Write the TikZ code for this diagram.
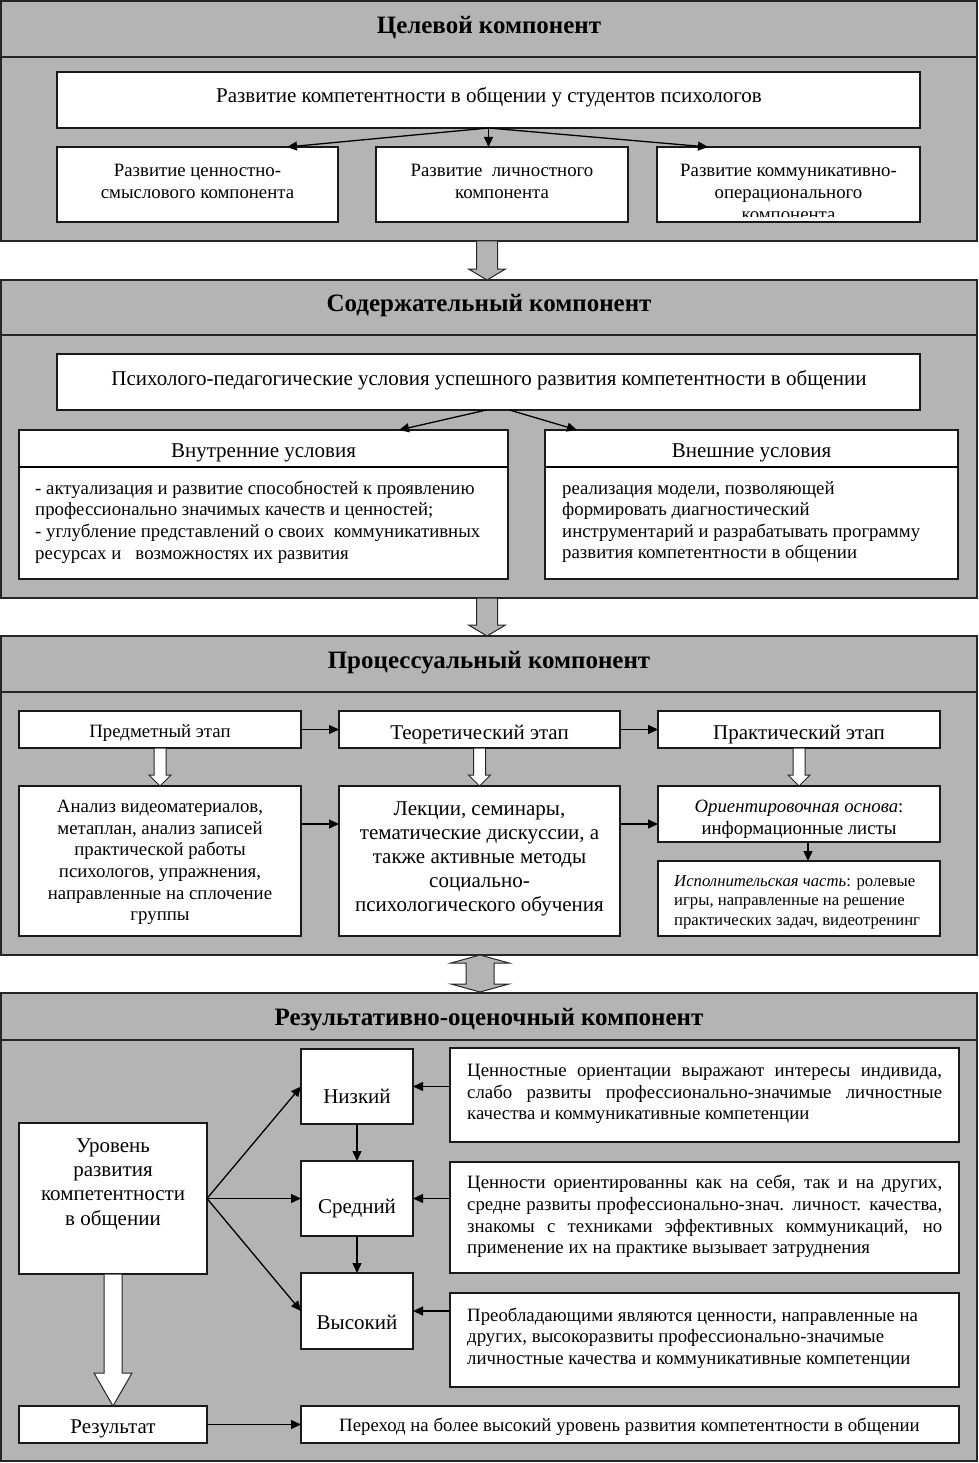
\documentclass[tikz,border=0pt]{standalone}
\usepackage{fontspec}
\setmainfont{Liberation Serif}
\usetikzlibrary{arrows.meta,calc}
\definecolor{secgray}{RGB}{180,180,180}
\tikzset{
 x=1pt,y=-1pt,
 sect/.style={draw=black!85,line width=1.6pt,fill=secgray,inner sep=0pt,outer sep=0pt},
 wbox/.style={draw=black!90,line width=1.3pt,fill=white,inner sep=0pt,outer sep=0pt},
 txt/.style={inner sep=0pt,align=center,yshift=-2pt},
 ltxt/.style={inner sep=0pt,align=left,anchor=west,yshift=-2pt},
 hdr/.style={inner sep=0pt,yshift=-2pt,font=\fontsize{25}{29}\selectfont\bfseries},
 hline/.style={draw=black!85,line width=1.6pt},
 arr/.style={line width=1.3pt,-{Triangle[length=10pt,width=9pt]}},
 blk/.style={draw=black!85,line width=1pt},
}
\newcommand\mybox[6][wbox]{\node[#1,anchor=north west,minimum width={#4pt-#2pt},minimum height={#5pt-#3pt}] (#6) at (#2,#3) {};}
\newcommand\blockarrow[7]{\filldraw[blk,fill=#7] ({#1-#4},#2) -- ({#1+#4},#2) -- ({#1+#4},{#3-#6}) -- ({#1+#5},{#3-#6}) -- (#1,#3) -- ({#1-#5},{#3-#6}) -- ({#1-#4},{#3-#6}) -- cycle;}
\newcommand\fa{\fontsize{21}{22}\selectfont}
\newcommand\fb{\fontsize{18.8}{22}\selectfont}
\newcommand\fc{\fontsize{18.8}{21.6}\selectfont}
\newcommand\fd{\fontsize{21}{24}\selectfont}
\newcommand\fe{\fontsize{16.7}{19.5}\selectfont}
\newcommand\ff{\fontsize{21}{24.2}\selectfont}
\newcommand\fg{\fontsize{18.8}{21.6}\selectfont}
\begin{document}
\begin{tikzpicture}
\useasboundingbox (0,0) rectangle (978,1463);
% ---------- Section 1
\mybox[sect]{1}{1}{977}{241}{s1}
\draw[hline] (1,57) -- (977,57);
\node[hdr] (h1) at (489,26) {Целевой компонент};
\mybox{57}{72}{920}{128}{m1}
\node[txt,font=\fa] (m1t) at (489,95) {Развитие компетентности в общении у студентов психологов};
\mybox{57}{147}{338}{222}{b1}
\mybox{376}{147}{628}{222}{b2}
\mybox{657}{147}{920}{222}{b3}
\node[txt,font=\fb] (b1t) at (197.5,179) {Развитие ценностно-\\смыслового компонента};
\node[txt,font=\fb] (b2t) at (502,179) {Развитие\ \ личностного\\компонента};
\begin{scope}
\clip (658,148) rectangle (919,217);
\node[txt,font=\fb] (b3t) at (788.5,190) {Развитие коммуникативно-\\операционального\\компонента};
\end{scope}
\draw[arr] (m1.south) -- ($(b1.north east)+(-51,0)$);
\draw[arr] (m1.south) -- (m1.south |- b2.north);
\draw[arr] (m1.south) -- ($(b3.north west)+(51,0)$);
% ---------- Section 2
\mybox[sect]{1}{280}{977}{598}{s2}
\draw[hline] (1,335) -- (977,335);
\node[hdr] (h2) at (489,304) {Содержательный компонент};
\blockarrow{487}{241}{280}{10.5}{18.5}{11}{secgray}
\mybox{57}{354}{920}{410}{m2}
\node[txt,font=\fa] (m2t) at (489,378) {Психолого-педагогические условия успешного развития компетентности в общении};
\mybox{19}{430}{508}{579}{inb}
\mybox{545}{430}{958}{579}{exb}
\draw[line width=1.3pt] (19,467) -- (508,467);
\draw[line width=1.3pt] (545,467) -- (958,467);
\node[txt,font=\fa] (inh) at (263.5,451) {Внутренние условия};
\node[txt,font=\fa] (exh) at (751.5,451) {Внешние условия};
\node[ltxt,font=\fc] (inb-t) at (35,520) {- актуализация и развитие способностей к проявлению\\профессионально значимых качеств и ценностей;\\- углубление представлений о своих\ \ коммуникативных\\ресурсах и \ \ возможностях их развития};
\node[ltxt,font=\fc] (exb-t) at (562,520) {реализация модели, позволяющей\\формировать диагностический\\инструментарий и разрабатывать программу\\развития компетентности в общении};
\draw[arr] ($(m2.south)+(-2,0)$) -- ($(inb.north east)+(-109,0)$);
\draw[arr] ($(m2.south)+(21,0)$) -- ($(exb.north west)+(32,0)$);
% ---------- Section 3
\mybox[sect]{1}{636}{977}{955}{s3}
\draw[hline] (1,692) -- (977,692);
\node[hdr] (h3) at (489,661) {Процессуальный компонент};
\blockarrow{487}{598}{636}{10.5}{18.5}{11}{secgray}
\mybox{19}{711}{301}{748}{p1}
\mybox{339}{711}{620}{748}{p2}
\mybox{658}{711}{940}{748}{p3}
\node[txt,font=\fb] (p1t) at (160,731) {Предметный этап};
\node[txt,font=\fa] (p2t) at (479.5,733) {Теоретический этап};
\node[txt,font=\fa] (p3t) at (799,733) {Практический этап};
\mybox{19}{786}{301}{936}{q1}
\mybox{339}{786}{620}{936}{q2}
\mybox{658}{786}{940}{842}{q3a}
\mybox{658}{861}{940}{936}{q3b}
\node[txt,font=\fc] (q1t) at (160,860.5) {Анализ видеоматериалов,\\метаплан, анализ записей\\практической работы\\психологов, упражнения,\\направленные на сплочение\\группы};
\node[txt,font=\fd] (q2t) at (479.5,857) {Лекции, семинары,\\тематические дискуссии, а\\также активные методы\\социально-\\психологического обучения};
\node[txt,font=\fc] (q3at) at (799,817) {\textit{Ориентировочная основа}:\\информационные листы};
\node[ltxt,font=\fe] (q3bt) at (674,900) {\textit{Исполнительская часть}: ролевые\\игры, направленные на решение\\практических задач, видеотренинг};
\draw[arr] (p1.east) -- (p2.west);
\draw[arr] (p2.east) -- (p3.west);
\draw[arr] ($(q1.north east)+(0,38)$) -- ($(q2.north west)+(0,38)$);
\draw[arr] ($(q2.north east)+(0,38)$) -- ($(q3a.north west)+(0,38)$);
\draw[arr] ($(q3a.south)+(9,0)$) -- ($(q3b.north)+(9,0)$);
\blockarrow{160}{748}{786}{6}{11}{11}{white}
\blockarrow{479.5}{748}{786}{6}{11}{11}{white}
\blockarrow{799}{748}{786}{6}{11}{11}{white}
% ---------- Section 4
\mybox[sect]{1}{993}{977}{1461}{s4}
\draw[hline] (1,1040) -- (977,1040);
\node[hdr] (h4) at (489,1018) {Результативно-оценочный компонент};
\filldraw[blk,fill=secgray] (480,955) -- (509,963) -- (494,963) -- (494,984) -- (509,984) -- (480,992) -- (451,984) -- (466,984) -- (466,963) -- (451,963) -- cycle;
\mybox{19}{1123}{207}{1274}{lvl}
\node[txt,font=\ff] (lvlt) at (113,1182) {Уровень\\развития\\компетентности\\в общении};
\mybox{301}{1049}{413}{1124}{low}
\mybox{301}{1161}{413}{1236}{mid}
\mybox{301}{1273}{413}{1349}{high}
\node[txt,font=\ff] (lowt) at (357,1094) {Низкий};
\node[txt,font=\ff] (midt) at (357,1207) {Средний};
\node[txt,font=\ff] (hight) at (357,1320) {Высокий};
\mybox{450}{1048}{959}{1142}{d1}
\mybox{450}{1162}{959}{1273}{d2}
\mybox{450}{1293}{959}{1387}{d3}
\node[ltxt,font=\fg] (d1t) at (467,1092) {\makebox[475pt][s]{Ценностные ориентации выражают интересы индивида,}\\\makebox[475pt][s]{слабо развиты профессионально-значимые личностные}\\качества и коммуникативные компетенции};
\node[ltxt,font=\fg] (d2t) at (467,1214.5) {\makebox[475pt][s]{Ценности ориентированны как на себя, так и на других,}\\\makebox[475pt][s]{средне развиты профессионально-знач. личност. качества,}\\\makebox[475pt][s]{знакомы с техниками эффективных коммуникаций, но}\\применение их на практике вызывает затруднения};
\node[ltxt,font=\fg] (d3t) at (467,1336) {Преобладающими являются ценности, направленные на\\других, высокоразвиты профессионально-значимые\\личностные качества и коммуникативные компетенции};
\mybox{19}{1406}{207}{1443}{res}
\mybox{301}{1406}{959}{1443}{trans}
\node[txt,font=\ff] (rest) at (113,1427) {Результат};
\node[txt,font=\fg] (transt) at (629.5,1425) {Переход на более высокий уровень развития компетентности в общении};
\draw[arr] (lvl.east) -- (low.west);
\draw[arr] (lvl.east) -- (mid.west);
\draw[arr] (lvl.east) -- (high.west);
\draw[arr] (low.south) -- (mid.north);
\draw[arr] (mid.south) -- (high.north);
\draw[arr] (d1.west |- low.east) -- (low.east);
\draw[arr] (d2.west |- mid.east) -- (mid.east);
\draw[arr] (d3.west |- high.east) -- (high.east);
\draw[arr] (res.east) -- (trans.west);
\blockarrow{113}{1274}{1406}{9}{19}{33}{white}
\end{tikzpicture}
\end{document}
